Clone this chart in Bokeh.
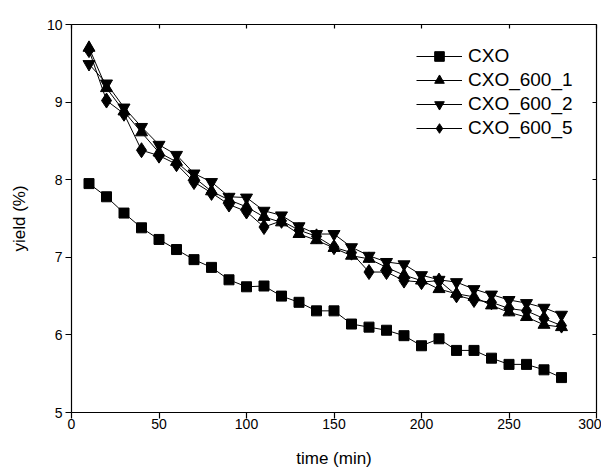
from bokeh.plotting import figure
from bokeh.models import LinearAxis, FixedTicker, Range1d, Legend
from bokeh.embed import file_html
from bokeh.resources import INLINE

time_min = [10, 20, 30, 40, 50, 60, 70, 80, 90, 100, 110, 120, 130, 140,
            150, 160, 170, 180, 190, 200, 210, 220, 230, 240, 250, 260, 270, 280]
cxo = [7.95, 7.78, 7.57, 7.38, 7.23, 7.10, 6.97, 6.87, 6.71, 6.62, 6.63, 6.50, 6.42, 6.31,
       6.31, 6.14, 6.10, 6.06, 5.99, 5.86, 5.95, 5.80, 5.80, 5.70, 5.62, 5.62, 5.55, 5.45]
cxo_600_1 = [9.70, 9.18, 8.88, 8.61, 8.35, 8.23, 8.03, 7.85, 7.74, 7.65, 7.52, 7.45, 7.30, 7.22,
             7.12, 7.02, 6.98, 6.87, 6.77, 6.70, 6.59, 6.53, 6.49, 6.38, 6.29, 6.23, 6.13, 6.10]
cxo_600_2 = [9.49, 9.24, 8.93, 8.68, 8.45, 8.32, 8.08, 7.97, 7.78, 7.77, 7.60, 7.54, 7.40, 7.30,
             7.30, 7.13, 7.02, 6.94, 6.91, 6.77, 6.71, 6.68, 6.59, 6.52, 6.45, 6.41, 6.35, 6.26]
cxo_600_5 = [9.67, 9.02, 8.85, 8.38, 8.31, 8.20, 7.97, 7.83, 7.68, 7.59, 7.39, 7.47, 7.35, 7.27,
             7.13, 7.06, 6.81, 6.81, 6.70, 6.68, 6.70, 6.51, 6.45, 6.42, 6.34, 6.31, 6.21, 6.12]

x_ticks = [0, 50, 100, 150, 200, 250, 300]
y_ticks = [5, 6, 7, 8, 9, 10]

FONT = "Liberation Sans"

p = figure(width=601, height=471, output_backend="svg", toolbar_location=None,
           x_range=Range1d(0, 300), y_range=Range1d(5, 10),
           min_border_left=71, min_border_right=5, min_border_top=24, min_border_bottom=59)
p.grid.visible = False
p.outline_line_color = None
p.background_fill_color = "white"

def style_axis(ax, ticks, show_labels, tin, tout):
    ax.ticker = FixedTicker(ticks=ticks)
    ax.minor_tick_line_color = None
    ax.major_tick_in = tin
    ax.major_tick_out = tout
    ax.axis_line_color = "black"
    ax.axis_line_width = 1.2
    ax.major_tick_line_color = "black"
    ax.major_tick_line_width = 1.2
    ax.major_label_text_font = FONT
    ax.major_label_text_color = "black"
    ax.major_label_text_font_size = "14px"
    if not show_labels:
        ax.major_label_overrides = {t: "" for t in ticks}
        ax.major_label_standoff = 0

style_axis(p.xaxis[0], x_ticks, True, 0, 6)
style_axis(p.yaxis[0], y_ticks, True, 0, 6)
p.xaxis.major_label_standoff = 0
p.yaxis.major_label_standoff = 3
p.xaxis.axis_label = "time (min)"
p.yaxis.axis_label = "yield (%)"
for ax in (p.xaxis[0], p.yaxis[0]):
    ax.axis_label_text_font = FONT
    ax.axis_label_text_font_size = "17px"
    ax.axis_label_text_font_style = "normal"
    ax.axis_label_text_color = "black"
p.xaxis.axis_label_standoff = 17
p.yaxis.axis_label_standoff = 15

top = LinearAxis()
style_axis(top, x_ticks, False, 4, 0)
p.add_layout(top, "above")
right = LinearAxis()
style_axis(right, y_ticks, False, 4, 0)
p.add_layout(right, "right")

series = [
    ("CXO", cxo, "square", 10),
    ("CXO_600_1", cxo_600_1, "triangle", 12),
    ("CXO_600_2", cxo_600_2, "inverted_triangle", 12),
    ("CXO_600_5", cxo_600_5, "diamond", 15),
]
items = []
for name, vals, marker, size in series:
    ln = p.line(time_min, vals, line_color="black", line_width=1)
    sc = p.scatter(time_min, vals, marker=marker, size=size, fill_color="black",
                   line_color="black")
    items.append((name, [ln, sc]))

legend = Legend(items=items, location=(345, 272))
legend.border_line_color = None
legend.background_fill_alpha = 0
legend.padding = 0
legend.margin = 0
legend.spacing = 0
legend.glyph_width = 46
legend.glyph_height = 24
legend.label_height = 24
legend.label_standoff = 6
legend.label_text_font = FONT
legend.label_text_font_size = "19px"
legend.label_text_color = "black"
p.add_layout(legend, "center")

open("out.html", "w").write(file_html(p, INLINE))
